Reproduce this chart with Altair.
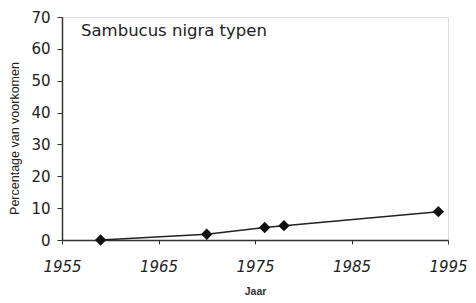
import altair as alt
import pandas as pd

years = [1959, 1970, 1976, 1978, 1994]
pct = [0.0, 1.8, 3.9, 4.5, 8.9]
title_text = "Sambucus nigra typen"
x_ticks = [1955, 1965, 1975, 1985, 1995]
y_ticks = [0, 10, 20, 30, 40, 50, 60, 70]

df = pd.DataFrame({"Jaar": years, "Percentage": pct})

xs = alt.Scale(domain=[1955, 1995], nice=False, zero=False)
ys = alt.Scale(domain=[0, 70], nice=False)

xax = alt.Axis(values=x_ticks, format="d", title="Jaar",
               labelFont="DejaVu Sans", labelFontSize=15, labelFontStyle="italic",
               labelColor="#222", labelOverlap=False, labelFlush=False, labelBound=False,
               titleFont="Liberation Sans", titleFontSize=10.5, titleFontWeight="bold",
               titleColor="#333", titleY=51, titleBaseline="middle",
               tickSize=4, tickColor="#333", domainColor="#333", domainWidth=1.5,
               grid=False, labelPadding=15)
yax = alt.Axis(values=y_ticks, format="d", title="Percentage van voorkomen",
               labelFont="DejaVu Sans", labelFontSize=15, labelColor="#222",
               labelOverlap=False, labelFlush=False, labelBound=False,
               titleFont="Liberation Sans", titleFontSize=12.5, titleFontWeight="normal",
               titleColor="#222", titleX=-48, titleY=121, titleBaseline="middle",
               tickSize=5, tickColor="#333",
               domainColor="#333", domainWidth=1.5, grid=False, labelPadding=7)

enc_x = alt.X("Jaar:Q", scale=xs, axis=xax)
enc_y = alt.Y("Percentage:Q", scale=ys, axis=yax)

line = alt.Chart(df).mark_line(color="#222", strokeWidth=1.5).encode(x=enc_x, y=enc_y)
pts = alt.Chart(df).mark_point(shape="diamond", filled=True, color="#111", size=130, opacity=1).encode(
    x=enc_x, y=enc_y)
label = alt.Chart(pd.DataFrame({"t": [title_text]})).mark_text(
    align="left", baseline="middle", font="DejaVu Sans", fontSize=16.5, color="#222"
).encode(x=alt.value(19), y=alt.value(14), text="t:N")

chart = alt.layer(line, pts, label).properties(
    width=386, height=223, autosize="none",
    padding={"left": 54, "top": 9, "right": 20, "bottom": 55},
).configure_view(stroke="#333", strokeWidth=1.5).configure(background="white")

chart.save("out.html", embed_options={"renderer": "svg", "actions": False})
